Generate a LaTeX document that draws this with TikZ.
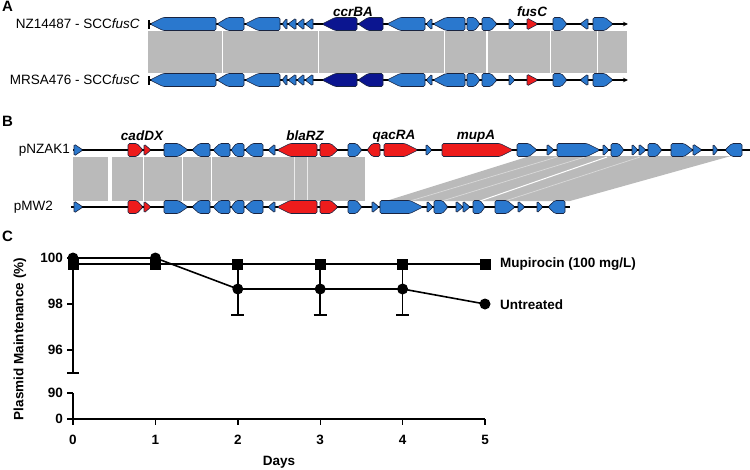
\documentclass[tikz,border=0pt]{standalone}
\usepackage{fontspec}
\setmainfont{Liberation Sans}
\usetikzlibrary{arrows.meta}
\definecolor{genblue}{HTML}{2A78CE}
\definecolor{ccrnavy}{HTML}{0B1590}
\definecolor{resred}{HTML}{EE1C1C}
\definecolor{bandgrey}{HTML}{BABABA}
\definecolor{geneline}{HTML}{1A2440}

% gene arrow: fill, row y, tail x, tip x
\newcommand{\gene}[4]{%
  \pgfmathsetmacro{\glen}{abs(#4-#3)}%
  \pgfmathsetmacro{\gdir}{(#4>#3)?1:-1}%
  \ifdim\glen pt<12pt
    \filldraw[genebox,fill=#1] (#3,#2-6) -- (#4,#2) -- (#3,#2+6) -- cycle;
  \else
    \pgfmathsetmacro{\gneck}{#4-\gdir*min(0.4*\glen,13)}%
    \filldraw[genebox,fill=#1] (#3,#2-6.5) -- (\gneck,#2-6.5) -- (#4,#2) -- (\gneck,#2+6.5) -- (#3,#2+6.5) -- cycle;
  \fi}

\begin{document}
\begin{tikzpicture}[x=1pt,y=-1pt,
  lbl/.style={font=\fontsize{13.5}{16}\selectfont,inner sep=0pt},
  boldlbl/.style={lbl,font=\fontsize{13.5}{16}\selectfont\bfseries},
  genelbl/.style={lbl,font=\fontsize{13.5}{16}\selectfont\bfseries\itshape},
  panel/.style={inner sep=0pt,font=\fontsize{15}{18}\selectfont\bfseries},
  genebox/.style={draw=geneline,line width=0.6pt,rounded corners=1.5pt},
  backbone/.style={line width=1.6pt,black},
  plotline/.style={line width=1.6pt,black},
  axis/.style={line width=1.4pt,black}]
  \useasboundingbox (0,0) rectangle (750,469);

  % ---------- A ----------
  \node[panel,anchor=north west] (pa) at (2,1) {A};
  \fill[bandgrey] (148,31) rectangle (627,73);
  \foreach \x/\w in {222/1,318/1,444/1,487/2.5,550/1,597/1}
    \draw[white,line width=\w pt] (\x,31) -- (\x,73);
  \node[lbl,anchor=east] (nz) at (140,24) {NZ14487 - SCC\textit{fusC}};
  \node[lbl,anchor=east] (mrsa) at (140,80) {MRSA476 - SCC\textit{fusC}};
  \node[genelbl] (ccr) at (353,12) {ccrBA};
  \node[genelbl] (fus) at (532,12) {fusC};
  \foreach \y in {24,80} {
    \draw[backbone,{Bar[width=9pt]}-{Stealth[length=5pt,width=4.5pt]}] (148,\y) -- (628,\y);
    \foreach \c/\a/\b in {genblue/216/150,genblue/244/217,genblue/280/245,genblue/287/282,
        genblue/296/288,genblue/304/297,genblue/313/305,ccrnavy/357/322,ccrnavy/383/358,
        genblue/425/387,genblue/432/426,genblue/465/433,genblue/467/480,genblue/482/497,
        genblue/509/515,resred/527/538,genblue/553/567,genblue/588/580,genblue/593/613}
      \gene{\c}{\y}{\a}{\b};
  }

  % ---------- B ----------
  \node[panel,anchor=north west] (pb) at (2,116) {B};
  \fill[bandgrey] (73,157) rectangle (365,201);
  \foreach \x/\w in {110/4,143/1,182/1,211/1}
    \draw[white,line width=\w pt] (\x,157) -- (\x,201);
  \foreach \x in {294,307}
    \draw[white!70!bandgrey,line width=0.8pt] (\x,157) -- (\x,201);
  \fill[bandgrey] (530,156) -- (731,156) -- (570,201) -- (386,201) -- cycle;
  \draw[white,line width=1pt] (607,157) -- (480,201);
  \foreach \xa/\xb in {557/410,585/442,640/505}
    \draw[white!45!bandgrey,line width=0.7pt] (\xa,157) -- (\xb,201);
  \node[lbl,anchor=east] (nzak) at (70,150) {pNZAK1};
  \node[lbl,anchor=east] (mw) at (53,207) {pMW2};
  \node[genelbl] (cad) at (142,136) {cadDX};
  \node[genelbl] (bla) at (305,136) {blaRZ};
  \node[genelbl] (qac) at (394,136) {qacRA};
  \node[genelbl] (mup) at (476,136) {mupA};
  \draw[backbone] (73,150) -- (750,150);
  \draw[backbone] (71,207) -- (570,207);
  \foreach \y in {150,207}
    \foreach \c/\a/\b in {genblue/74/83,resred/128/143,resred/144/151,genblue/164/188,
        genblue/210/192,genblue/230/213,genblue/244/231,genblue/263/245,genblue/275/268,
        resred/317/277,resred/320/338,genblue/348/362}
      \gene{\c}{\y}{\a}{\b};
  \foreach \c/\a/\b in {resred/380/367,resred/384/418,genblue/426/432,resred/442/513,
      genblue/517/537,genblue/547/554,genblue/557/600,genblue/603/609,genblue/611/624,
      genblue/632/638,genblue/639/646,genblue/648/662,genblue/671/693,genblue/693/702,
      genblue/713/718,genblue/742/725}
    \gene{\c}{150}{\a}{\b};
  \foreach \c/\a/\b in {genblue/372/379,genblue/380/423,genblue/427/433,genblue/434/448,
      genblue/456/463,genblue/463/470,genblue/473/485,genblue/495/515,genblue/518/525,
      genblue/537/543,genblue/565/548}
    \gene{\c}{207}{\a}{\b};

  % ---------- C ----------
  \node[panel,anchor=north west] (pc) at (2,231) {C};
  \draw[axis] (73,257) -- (73,373);
  \draw[axis] (73,393) -- (73,419) -- (485,419);
  \foreach \v/\yy in {100/258,98/304,96/350,90/393,0/419} {
    \draw[axis] (73,\yy) -- (67,\yy);
    \node[boldlbl,anchor=east] (y\v) at (63,\yy) {\v};
  }
  \foreach \d in {0,...,5} {
    \draw[axis] (73+82.4*\d,419) -- (73+82.4*\d,425);
    \node[boldlbl] (x\d) at (73+82.4*\d,440) {\d};
  }
  \node[boldlbl] (days) at (279,462) {Days};
  \node[boldlbl,rotate=90] (ylab) at (20,339) {Plasmid Maintenance (\%)};
  % error bars
  \draw[plotline] (67,373) -- (79,373);
  \foreach \d in {2,3,4} {
    \draw[plotline] (73+82.4*\d,264) -- (73+82.4*\d,315);
    \draw[plotline] (73+82.4*\d-6.5,315) -- (73+82.4*\d+6.5,315);
  }
  % series
  \draw[plotline] (73,264) -- (485,264);
  \draw[plotline] (73,258) -- (155.4,258) -- (237.8,289) -- (320.2,289) -- (402.6,289) -- (485,304);
  \foreach \d in {0,...,5}
    \fill (73+82.4*\d-5.5,258.5) rectangle (73+82.4*\d+5.5,269.5);
  \foreach \xx/\yy in {73/258,155.4/258,237.8/289,320.2/289,402.6/289,485/304}
    \fill (\xx,\yy) circle (5.5);
  \node[boldlbl,anchor=west] (legm) at (500,264) {Mupirocin (100 mg/L)};
  \node[boldlbl,anchor=west] (legu) at (500,305) {Untreated};
\end{tikzpicture}
\end{document}
